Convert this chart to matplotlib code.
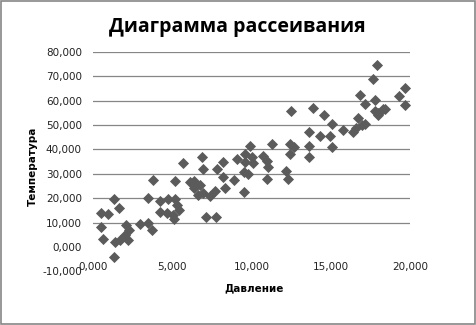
import matplotlib
matplotlib.use("Agg")
import matplotlib.pyplot as plt
from matplotlib.patches import Rectangle
from matplotlib.ticker import FuncFormatter

# Data (thousands)
pressure = [0.5, 0.95, 1.3, 1.65, 0.5, 0.63, 1.3, 1.37, 1.7, 2.2, 2.0, 2.1, 2.3, 2.95,
            3.45, 3.75, 3.45, 3.8, 4.2, 4.2, 4.65, 4.75, 5.2, 5.3, 5.05, 5.45, 5.1, 5.2, 5.65,
            6.1, 6.4, 6.75, 6.4, 6.6, 6.95, 7.4, 7.7, 7.1, 7.75, 6.9, 6.95, 7.8, 8.2, 8.2, 8.3, 8.9,
            9.07, 9.5, 9.75, 9.5, 9.9, 9.6, 10.0, 9.6, 10.1, 10.75, 10.96, 11.07, 10.96, 11.3,
            12.2, 12.3, 12.4, 12.7, 12.4, 12.5, 13.6, 13.6, 13.6, 13.9, 14.3, 14.6, 14.95, 15.06, 15.06,
            15.75, 16.4, 16.6, 16.95, 17.16, 16.75, 16.85, 17.16, 17.65, 17.9, 17.8, 17.8, 18.0,
            18.3, 17.95, 19.3, 19.7, 19.7, 18.4]
temperature = [14.0, 13.5, 19.7, 16.2, 8.3, 3.2, -4.1, 2.2, 2.8, 3.1, 4.9, 8.9, 6.9, 9.6,
               10.0, 6.9, 20.0, 27.4, 18.9, 14.4, 14.0, 19.5, 19.8, 17.1, 13.0, 15.0, 11.7, 27.0, 34.6,
               26.7, 27.2, 25.5, 24.0, 21.2, 22.0, 21.0, 22.8, 12.4, 12.4, 36.7, 32.0, 32.0, 34.7, 28.8, 24.2, 27.5,
               36.1, 30.6, 30.0, 22.5, 41.3, 38.1, 37.0, 34.7, 34.3, 37.4, 35.4, 32.7, 27.9, 42.1,
               31.3, 27.9, 42.2, 40.8, 38.1, 55.8, 47.0, 41.2, 36.8, 57.0, 45.4, 53.9, 45.3, 50.3, 40.8,
               48.0, 47.0, 48.6, 49.9, 50.3, 53.0, 62.2, 58.4, 68.8, 74.6, 60.4, 55.7, 55.0,
               56.4, 54.0, 61.8, 65.2, 58.0, 56.6]
pressure = [v * 1000 for v in pressure]
temperature = [v * 1000 for v in temperature]

x_ticks = [0, 5000, 10000, 15000, 20000]
y_ticks = [-10000, 0, 10000, 20000, 30000, 40000, 50000, 60000, 70000, 80000]
grid_levels = [10000, 20000, 30000, 40000, 50000, 60000, 70000, 80000]

title = "Диаграмма рассеивания"
xlabel = "Давление"
ylabel = "Температура"

fig = plt.figure(figsize=(4.76, 3.25), dpi=100)
W, H = 476, 325
ax = fig.add_axes([93 / W, 1 - 271.5 / H, (410 - 93) / W, (271.5 - 51.7) / H])
ax.set_xlim(0, 20000)
ax.set_ylim(-10000, 80000)

for g in grid_levels:
    ax.axhline(g, color="#868686", lw=0.9, zorder=1)

ax.scatter(pressure, temperature, marker="D", s=32, color="#5b5b5b", linewidths=0, zorder=3)

fmt = FuncFormatter(lambda v, p: f"{v/1000:,.3f}".replace(".", ","))
ax.set_xticks(x_ticks)
ax.set_yticks(y_ticks)
ax.xaxis.set_major_formatter(fmt)
ax.yaxis.set_major_formatter(fmt)
ax.tick_params(axis="both", length=0, labelsize=7.5, labelcolor="#222222")
ax.tick_params(axis="y", pad=8)
ax.tick_params(axis="x", pad=-6.5)
for s in ax.spines.values():
    s.set_visible(False)

fig.text(237 / W, 1 - 27 / H, title, ha="center", va="center", fontsize=14,
         fontweight="bold", family="Open Sans")
fig.text(254 / W, 1 - 288 / H, xlabel, ha="center", va="center", fontsize=7.5,
         fontweight="bold", family="DejaVu Sans")
fig.text(33 / W, 1 - 166 / H, ylabel, ha="center", va="center", fontsize=7.5,
         fontweight="bold", rotation=90, family="DejaVu Sans")

fig.patches.append(Rectangle((0.5 / W, 1.5 / H), (W - 1.5) / W, (H - 2.5) / H,
                             transform=fig.transFigure, fill=False,
                             edgecolor="#868686", lw=1.2))

fig.savefig("out.png", dpi=100)
